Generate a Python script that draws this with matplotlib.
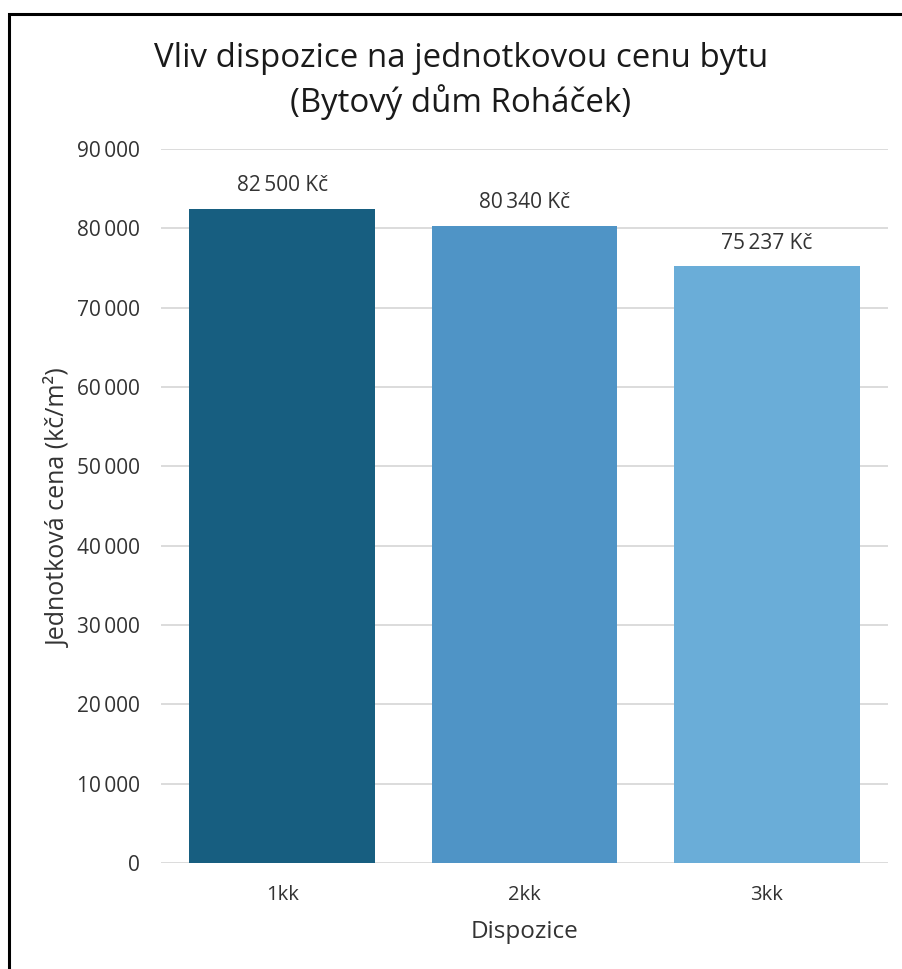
import matplotlib
matplotlib.use("Agg")
import matplotlib.pyplot as plt
from matplotlib.patches import Rectangle
from matplotlib.ticker import FuncFormatter, MultipleLocator

plt.rcParams['font.family'] = ['Open Sans', 'DejaVu Sans']

categories = ["1kk", "2kk", "3kk"]
prices = [82500, 80340, 75237]
colors = ["#175E80", "#4F94C6", "#6AADD8"]

title = "Vliv dispozice na jednotkovou cenu bytu\n(Bytový dům Roháček)"
xlabel = "Dispozice"
ylabel = "Jednotková cena (kč/m²)"

TEXT = "#333333"
GRID = "#d9d9d9"
W, H = 902, 969


def thousands(v):
    return f"{int(round(v)):,}".replace(",", "\u2009")


fig = plt.figure(figsize=(W / 100, H / 100), dpi=100)
fig.patch.set_facecolor("white")

# outer frame
fig.add_artist(Rectangle((8.5 / W, -0.05), 1.2, 1 - 13.5 / H + 0.05,
                         transform=fig.transFigure, fill=False,
                         edgecolor="black", linewidth=2.2))

ax = fig.add_axes([161 / W, 1 - 863 / H, (888 - 161) / W, (863 - 149) / H])
x = range(len(categories))
bars = ax.bar(x, prices, width=0.767, color=colors, zorder=2)

ax.set_xlim(-0.5, len(categories) - 0.5)
ax.set_ylim(0, 90000)
ax.yaxis.set_major_locator(MultipleLocator(10000))
ax.yaxis.set_major_formatter(FuncFormatter(lambda v, p: thousands(v)))
ax.grid(axis="y", color=GRID, linewidth=1.3, zorder=0)
ax.set_axisbelow(True)
for s in ax.spines.values():
    s.set_visible(False)

ax.set_xticks(list(x))
ax.set_xticklabels(categories)
ax.tick_params(axis="both", length=0, labelcolor=TEXT)
ax.tick_params(axis="y", pad=15, labelsize=15)
ax.tick_params(axis="x", pad=16, labelsize=14.5)

for b, v in zip(bars, prices):
    ax.annotate(f"{thousands(v)} Kč", (b.get_x() + b.get_width() / 2, v),
                xytext=(0, 9), textcoords="offset points",
                ha="center", va="bottom", fontsize=15, color=TEXT)

fig.text(524.5 / W, 1 - 938 / H, xlabel, ha="center", va="baseline",
         fontsize=17.5, color=TEXT)
fig.text(59 / W, 1 - 508 / H, ylabel, ha="center", va="center",
         rotation=90, fontsize=18, color=TEXT)

fig.text(461 / W, 1 - 81 / H, title, ha="center", va="center",
         fontsize=23.8, color="#1a1a1a", linespacing=1.35)

fig.savefig("out.png", dpi=100, facecolor="white")
